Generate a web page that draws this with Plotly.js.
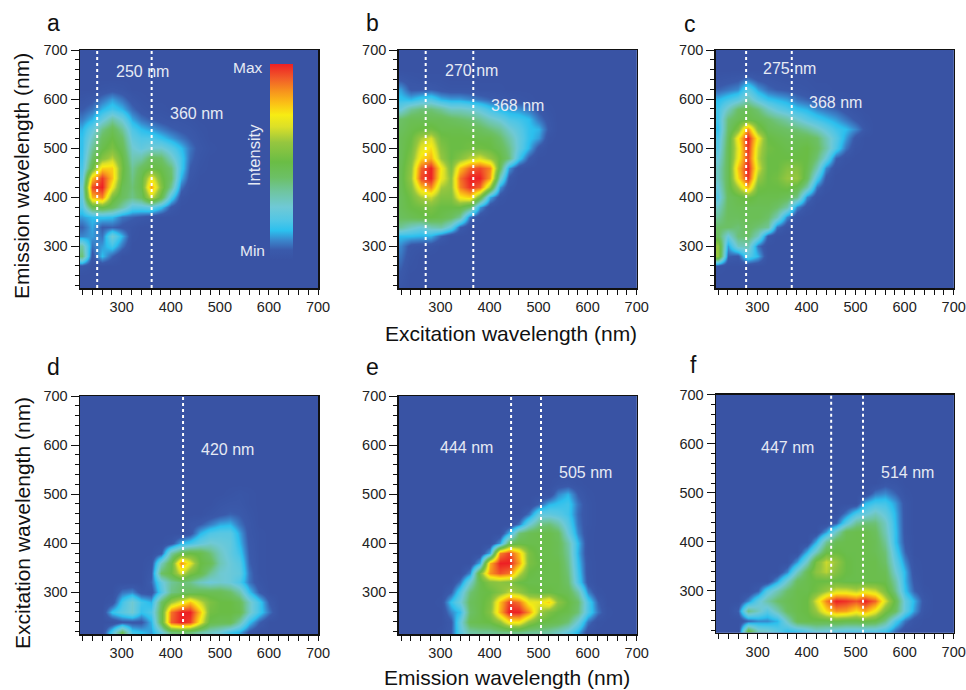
<!DOCTYPE html>
<html><head><meta charset="utf-8">
<script src="https://cdn.plot.ly/plotly-3.0.1.min.js"></script>
<style>html,body{margin:0;padding:0;background:#fff}#g{width:966px;height:690px}</style>
</head><body><div id="g"></div>
<script>
// Grid: columns 220..640 step 20, rows listed from 640 (top) down to 220 (bottom). Missing cells are zero.
const gridX = [220,240,260,280,300,320,340,360,380,400,420,440,460,480,500,520,540,560,580,600,620,640,660,680,700];
const gridY = [640,620,600,580,560,540,520,500,480,460,440,420,400,380,360,340,320,300,280,260,240,220];
const intensityA = [
[0],
[0,0,2,3,2],
[2,4,8,12,8,3,1],
[5,8,14,18,14,7,3,1,1],
[9,14,24,34,26,13,8,5,3,2,2,1],
[14,24,38,46,36,20,15,12,9,6,4,3,1],
[16,30,44,50,42,24,20,20,16,12,8,5,2],
[16,36,48,54,46,28,24,28,28,22,15,8,3,1],
[17,42,56,64,50,32,34,44,42,30,18,7,2],
[19,50,78,78,52,36,44,50,48,40,18,5,1],
[22,80,97,80,50,38,48,72,52,42,14,3],
[26,95,100,72,46,40,48,84,56,36,8,1],
[24,82,88,54,44,38,44,66,48,20,2],
[20,46,50,44,34,22,22,24,16,4],
[12,15,16,15,8,6,4,2],
[6,13,5,6,4,2],
[10,12,8,27,14,1],
[34,8,12,18,8],
[40,3,15,6],
[3],
[0],
[0]];
const intensityB = [
[4,2,1,1,1],
[12,4,4,5,3,2,2,2,1,1,1],
[16,14,18,20,14,12,12,10,8,6,4,3,2,1],
[26,36,40,40,36,30,30,28,24,18,14,12,11,8,4,1],
[42,46,46,46,46,44,42,40,36,30,26,20,18,15,8,3],
[44,48,50,52,48,48,48,46,44,40,36,28,22,16,14,4],
[46,50,62,68,52,50,50,50,48,48,42,34,24,16,12,1],
[46,52,70,76,56,50,50,52,52,50,46,38,24,14,3],
[46,55,76,82,60,50,56,64,68,60,50,40,18,5],
[47,58,92,100,74,54,80,92,95,88,45,12,1],
[47,60,95,100,72,58,90,100,100,85,30,4],
[47,56,80,88,62,58,88,98,92,60,12,1],
[46,52,62,66,55,55,74,78,52,14,2],
[46,50,52,54,50,50,50,42,12,1],
[44,46,48,50,48,44,36,8,1],
[36,30,26,32,34,24,6],
[15,15,14,14,6],
[10,3,2,2],
[8,2],
[6,1],
[4],
[2]];
const intensityC = [
[2,3,4,8,4,3,2,1,1,1],
[6,8,10,22,12,7,5,4,3,2,1,1],
[14,18,22,32,22,16,14,12,8,6,4,3,2,1],
[18,30,42,46,40,30,24,20,16,14,10,8,6,3,1],
[18,40,46,48,46,42,38,34,28,22,18,15,12,8,4,1],
[16,42,55,86,55,46,44,42,40,36,30,24,18,15,10,3],
[20,44,74,100,72,50,48,46,46,46,42,32,22,12,3],
[22,46,70,98,66,52,50,48,48,50,44,34,20,8,1],
[26,46,72,96,64,50,50,50,50,50,40,26,6,1],
[30,46,80,100,68,50,50,56,56,48,32,10,1],
[30,46,76,98,60,50,52,60,60,45,20,4],
[26,46,62,82,52,50,50,52,48,34,8,1],
[22,44,48,52,48,48,48,45,38,10,1],
[30,44,46,46,46,46,42,34,10,2],
[36,44,44,46,46,42,32,10,1],
[42,42,40,44,40,36,8,1],
[44,25,40,42,30,4],
[60,12,30,32,8],
[60,6,4,22,14],
[2],
[0],
[0]];
const intensityD = [
[0],[0],[0],[0],[0],[0],[0],
[0,0,0,0,0,0,0,0,0,0,0,0,0,0,0,1,2,1],
[0,0,0,0,0,0,0,0,0,0,0,0,0,0,2,3,3,1],
[0,0,0,0,0,0,0,0,0,0,0,0,0,2,4,6,5,2],
[0,0,0,0,0,0,0,0,0,0,0,3,5,9,13,14,8,3],
[0,0,0,0,0,0,0,0,0,0,0,3,14,20,22,22,13,3,1],
[0,0,0,0,0,0,0,0,0,3,14,18,24,28,26,24,15,4,1],
[0,0,0,0,0,0,0,0,4,34,46,50,48,40,30,24,18,5,1],
[0,0,0,0,0,0,0,2,30,48,86,70,50,46,32,26,22,6,1],
[0,0,0,0,0,0,0,4,42,50,68,54,48,36,28,26,24,8,1],
[0,0,0,0,0,0,0,6,24,36,40,38,30,26,28,26,20,8,2],
[0,0,0,0,8,10,3,2,20,38,42,44,46,46,46,42,34,16,5],
[0,0,0,2,18,28,18,14,42,60,70,80,66,54,50,50,46,30,18,5],
[0,0,0,16,22,28,16,20,46,90,100,100,80,52,50,50,48,30,18,8],
[0,0,0,0,4,4,4,14,46,92,100,96,72,48,46,46,34,16,6],
[0,0,0,20,44,18,15,12,25,40,42,40,34,30,26,18,14,4]];
const intensityE = [
[0],[0],[0],[0],[0],[0],
[0,0,0,0,0,0,0,0,0,0,0,0,0,0,0,0,2,3,1],
[0,0,0,0,0,0,0,0,0,0,0,0,0,0,0,1,10,14,5,1],
[0,0,0,0,0,0,0,0,0,0,0,0,0,0,6,14,16,18,8,2],
[0,0,0,0,0,0,0,0,0,0,0,0,0,8,24,24,22,18,7,2],
[0,0,0,0,0,0,0,0,0,0,0,0,8,26,38,40,34,22,8,2],
[0,0,0,0,0,0,0,0,0,0,0,14,40,46,48,48,44,26,10,1],
[0,0,0,0,0,0,0,0,0,0,12,44,48,48,48,48,46,34,15,1],
[0,0,0,0,0,0,0,0,0,14,88,96,80,54,48,48,46,36,14,1],
[0,0,0,0,0,0,0,0,14,82,100,100,85,54,50,48,48,38,16,2],
[0,0,0,0,0,0,0,10,54,86,94,90,66,50,48,48,48,40,18,2],
[0,0,0,0,0,0,8,28,48,56,58,56,50,48,48,48,48,42,20,3],
[0,0,0,0,0,5,20,40,48,50,56,64,60,52,50,50,48,46,34,10,1],
[0,0,0,0,1,16,26,44,48,54,80,96,90,72,70,78,58,50,42,20,6],
[0,0,0,0,0,10,16,42,48,56,82,100,100,86,62,54,50,48,40,20,8,1],
[0,0,0,0,0,4,24,46,48,50,58,74,74,58,50,48,46,40,26,8,1],
[0,0,0,0,1,5,22,34,36,36,38,38,38,36,36,34,30,24,14,2]];
const intensityF = [
[0],[0],[0],[0],[0],[0],
[0,0,0,0,0,0,0,0,0,0,0,0,0,0,0,0,0,3,2],
[0,0,0,0,0,0,0,0,0,0,0,0,0,0,0,0,8,10,6,1],
[0,0,0,0,0,0,0,0,0,0,0,0,0,0,0,14,18,18,12,3],
[0,0,0,0,0,0,0,0,0,0,0,0,0,8,18,24,30,24,14,3],
[0,0,0,0,0,0,0,0,0,0,0,0,6,22,36,40,40,30,15,3],
[0,0,0,0,0,0,0,0,0,0,0,12,30,46,48,48,44,32,16,3],
[0,0,0,0,0,0,0,0,0,0,14,36,46,48,48,48,46,36,16,4],
[0,0,0,0,0,0,0,0,0,14,30,48,50,48,48,48,46,40,20,6],
[0,0,0,0,0,0,0,0,12,30,54,66,60,50,48,48,48,42,24,10,1],
[0,0,0,0,0,0,0,10,30,46,58,64,56,50,48,48,48,46,28,14,2],
[0,0,0,0,0,0,12,28,44,48,50,50,50,48,48,48,48,48,34,14,4],
[0,0,0,0,6,22,32,42,48,48,52,60,68,68,64,70,66,54,38,16,6,1],
[0,0,0,10,24,34,42,46,48,50,68,88,100,98,94,100,92,68,48,24,14,3],
[0,0,6,38,30,22,32,44,48,50,60,76,86,84,76,84,72,54,44,24,12,2],
[0,0,0,6,10,10,14,30,46,48,48,48,50,48,48,50,48,38,20,8,2],
[0,0,0,48,30,28,22,16,18,22,28,26,24,22,22,22,22,18,8,1]];
const panelIntensity = [intensityA,intensityB,intensityC,intensityD,intensityE,intensityF];
const guideLines = [[250,361],[270,367],[277,370],[425],[444,505],[450,515]];
const panelLetters = ['a','b','c','d','e','f'];
const peakLabels = [['250 nm','360 nm'],['270 nm','368 nm'],['275 nm','368 nm'],['420 nm'],['444 nm','505 nm'],['447 nm','514 nm']];
const axisRange = [215,700];
const tickValues = [300,400,500,600,700];

// layout in pixels
const W=966,H=690;
const boxes=[[80,318,50,288],[398.7,636.7,50,288],[715.7,953.7,50,288],[80,318,396,634],[398.7,636.7,396,634],[716,953.7,394.7,632.7]];
const labelPos=[[[142,72],[196,114]],[[471,70],[517,105]],[[789,69],[835,102]],[[227,449]],[[466,447],[585,472]],[[787,447],[907,472]]];
const letterPos=[[53,23],[372,23],[690,24],[53,367],[372,367],[693,365]];
const scale=[[0,'#3953a4'],[0.05,'#3a5aab'],[0.1,'#3a86cc'],[0.15,'#2cc0ee'],[0.2,'#50c6e6'],[0.27,'#6fc9d6'],[0.35,'#6fc5a0'],[0.42,'#6cc066'],[0.5,'#6abd45'],[0.6,'#96c63f'],[0.68,'#dce028'],[0.74,'#f7ec13'],[0.8,'#fbc016'],[0.86,'#f7941d'],[0.93,'#f15a29'],[1,'#ed2024']];

const px=(x)=>x/W, py=(y)=>1-y/H;
const data=[],layout={width:W,height:H,paper_bgcolor:'#fff',plot_bgcolor:'#3953a4',showlegend:false,
  margin:{l:0,r:0,t:0,b:0,autoexpand:false},annotations:[],font:{family:'"Liberation Sans",Arial,sans-serif',color:'#222'}};
function note(text,x,y,size,color,extra){layout.annotations.push(Object.assign({text,x:px(x),y:py(y),xref:'paper',yref:'paper',showarrow:false,xanchor:'center',yanchor:'middle',font:{size,color}},extra||{}));}

panelIntensity.forEach((rows,i)=>{
  const n=i?String(i+1):'';
  const ax='x'+n, ay='y'+n, b=boxes[i];
  const z=rows.map(r=>gridX.map((_,k)=>r[k]||0));
  const zeros=gridX.map(()=>0);
  const ys=gridY.slice().reverse().concat([660,680,700]);
  const zz=z.slice().reverse().concat([zeros,zeros,zeros]);
  const tr={type:'heatmap',x:gridX,y:ys,z:zz,xaxis:ax,yaxis:ay,zmin:0,zmax:100,zsmooth:'best',colorscale:scale,showscale:i===0,hoverinfo:'skip'};
  if(i===0) tr.colorbar={x:px(270),xanchor:'left',y:py(64),yanchor:'top',thicknessmode:'pixels',thickness:23,lenmode:'pixels',len:196,xpad:0,ypad:0,outlinewidth:0,borderwidth:0,ticks:'',showticklabels:false};
  data.push(tr);
  guideLines[i].forEach(v=>data.push({type:'scatter',mode:'lines',x:[v,v],y:axisRange,xaxis:ax,yaxis:ay,line:{color:'#fff',width:2,dash:'dot'},hoverinfo:'skip'}));
  const common={range:axisRange,tickmode:'array',tickvals:tickValues,showgrid:false,zeroline:false,showline:true,mirror:true,linecolor:'#111',linewidth:1.5,ticks:'outside',tickcolor:'#111',tickfont:{size:14.5,color:'#222'}};
  layout['xaxis'+n]=Object.assign({},common,{domain:[px(b[0]),px(b[1])],anchor:ay,ticklen:5,
    minor:{dtick:20,tick0:0,ticks:'outside',ticklen:5,tickcolor:'#111',showgrid:false}});
  layout['yaxis'+n]=Object.assign({},common,{domain:[py(b[3]),py(b[2])],anchor:ax,ticklen:8,
    minor:{dtick:20,tick0:0,ticks:'outside',ticklen:4,tickcolor:'#111',showgrid:false}});
  peakLabels[i].forEach((t,k)=>note(t,labelPos[i][k][0],labelPos[i][k][1],16,'#e6eaf4'));
  note(panelLetters[i],letterPos[i][0],letterPos[i][1],23,'#111');
});
note('Max',248,68,15.5,'#e6eaf4');
note('Min',252,250,15.5,'#e6eaf4');
note('Intensity',254,155,16.5,'#e6eaf4',{textangle:-90});
note('Emission wavelength (nm)',22,176,21,'#111',{textangle:-90});
note('Excitation wavelength (nm)',22,523,21,'#111',{textangle:-90});
note('Excitation wavelength (nm)',511,333,21,'#111');
note('Emission wavelength (nm)',507,677,21,'#111');

Plotly.newPlot('g',data,layout,{displayModeBar:false,staticPlot:true});
</script></body></html>
